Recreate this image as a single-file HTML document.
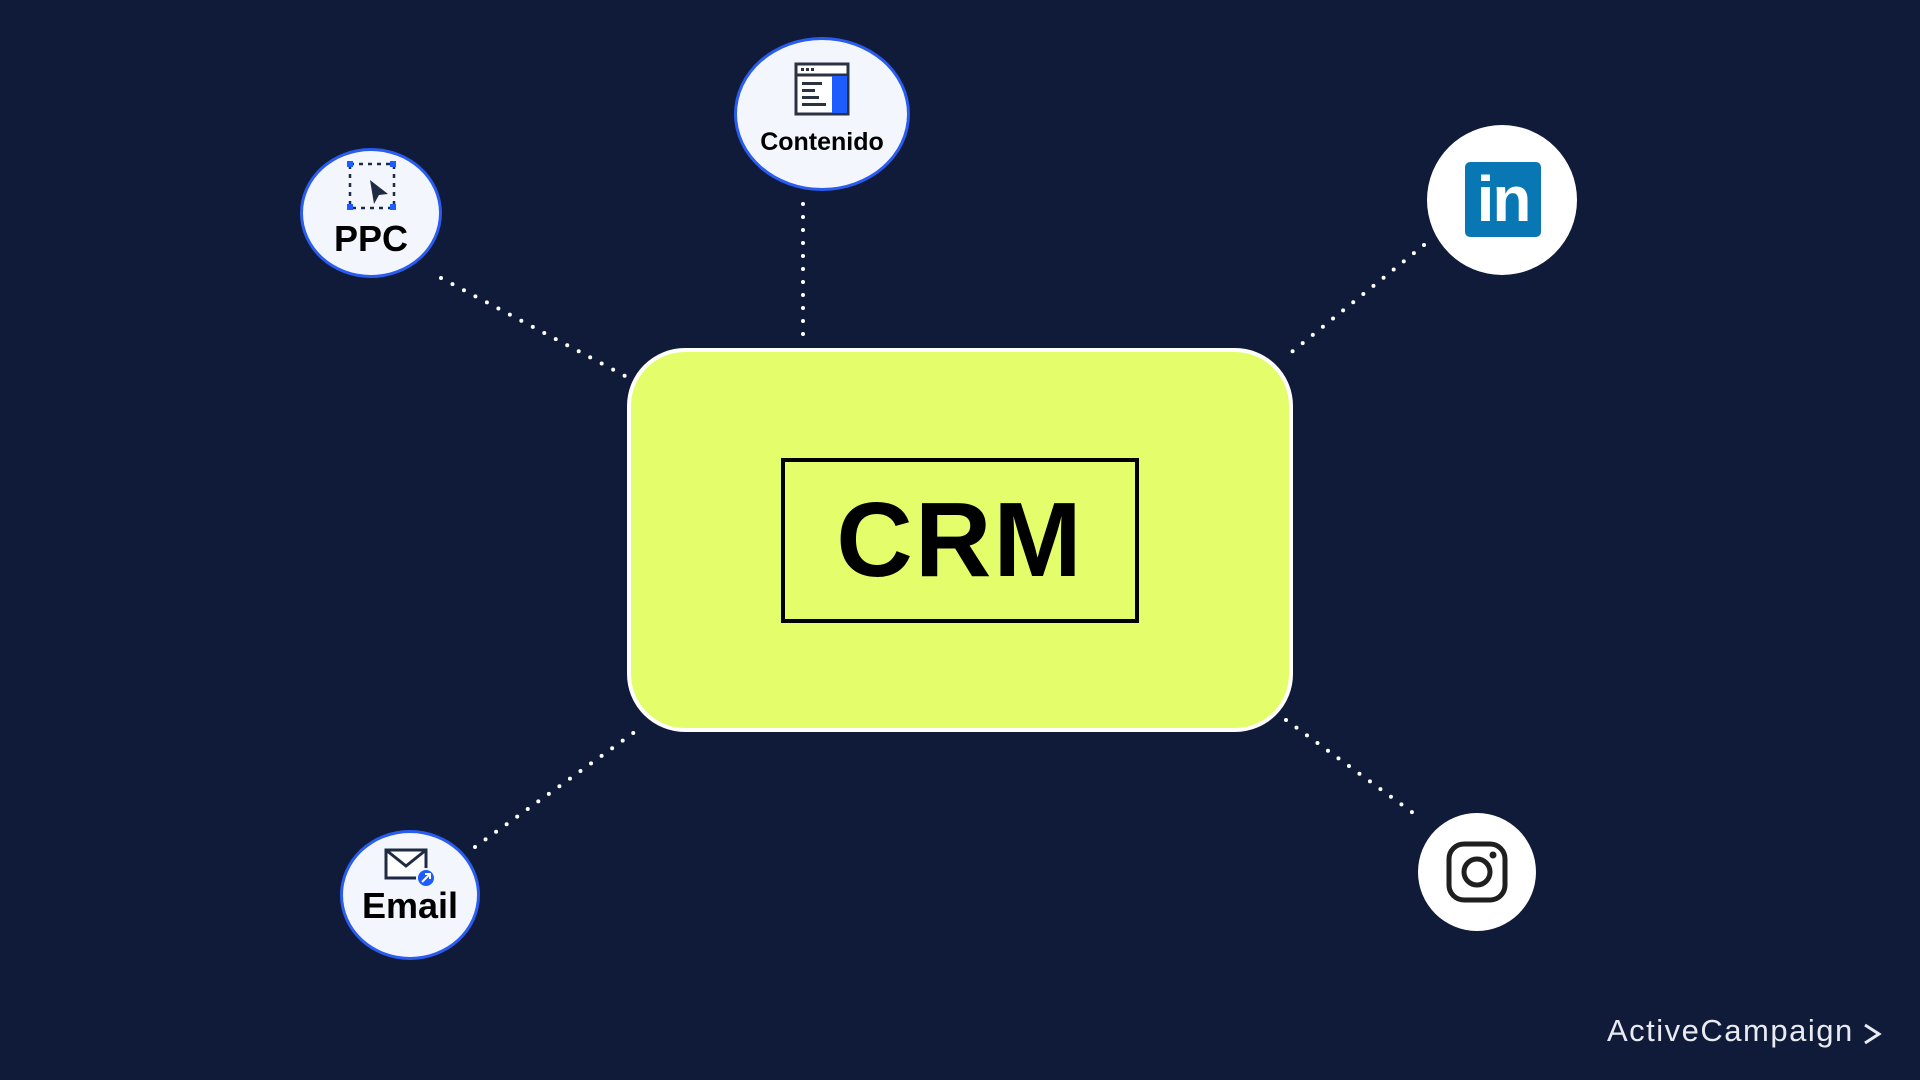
<!DOCTYPE html>
<html><head><meta charset="utf-8"><style>
html,body{margin:0;padding:0;}
body{width:1920px;height:1080px;background:#0f1b38;position:relative;overflow:hidden;font-family:"Liberation Sans",sans-serif;}
.n{position:absolute;background:#f3f7fd;border:3px solid #2a5cf0;border-radius:50%;box-sizing:border-box;}
.w{position:absolute;background:#fff;border-radius:50%;}
.crm{position:absolute;left:627px;top:348px;width:666px;height:384px;background:#e4fd6a;border:4px solid #fff;border-radius:58px;box-sizing:border-box;}
.inner{position:absolute;left:781px;top:458px;width:358px;height:165px;border:4px solid #000;box-sizing:border-box;display:flex;align-items:center;justify-content:center;font-weight:bold;font-size:106px;color:#000;letter-spacing:2px;}
.lbl{position:absolute;font-weight:bold;color:#000;text-align:center;}
</style></head><body>
<svg width="1920" height="1080" style="position:absolute;left:0;top:0">
<g stroke="#fff" stroke-width="4" stroke-linecap="round" stroke-dasharray="0 13" fill="none">
<line x1="441" y1="278" x2="627" y2="377"/>
<line x1="803" y1="204" x2="803" y2="337"/>
<line x1="1424" y1="245" x2="1283" y2="359"/>
<line x1="1286" y1="720" x2="1420" y2="818"/>
<line x1="475" y1="847" x2="643" y2="726"/>
</g>
</svg>
<div class="crm"></div>
<div class="inner">CRM</div>

<div class="n" style="left:300px;top:148px;width:142px;height:130px"></div>
<svg style="position:absolute;left:346px;top:160px" width="52" height="52">
<g fill="#1f2a44"><rect x="4" y="4" width="44" height="44" fill="none" stroke="#1f2a44" stroke-width="2.5" stroke-dasharray="4 5"/></g>
<g fill="#1d5cff"><rect x="1" y="1" width="6" height="6"/><rect x="44" y="1" width="6" height="6"/><rect x="1" y="44" width="6" height="6"/><rect x="44" y="44" width="6" height="6"/></g>
<path d="M24 20 L42 34 L33 35 L28 44 Z" fill="#1f2a44"/>
</svg>
<div class="lbl" style="left:300px;top:218px;width:142px;font-size:36px">PPC</div>

<div class="n" style="left:734px;top:37px;width:176px;height:154px"></div>
<svg style="position:absolute;left:794px;top:62px" width="56" height="54">
<rect x="2" y="2" width="52" height="50" fill="#fff" stroke="#2b3242" stroke-width="3"/>
<line x1="2" y1="13" x2="54" y2="13" stroke="#2b3242" stroke-width="3"/>
<rect x="38" y="14" width="15" height="37" fill="#1d5cff"/>
<g fill="#2b3242"><rect x="7" y="6" width="3" height="3"/><rect x="12" y="6" width="3" height="3"/><rect x="17" y="6" width="3" height="3"/>
<rect x="8" y="20" width="20" height="3"/><rect x="8" y="27" width="13" height="3"/><rect x="8" y="34" width="17" height="3"/><rect x="8" y="41" width="24" height="3"/></g>
</svg>
<div class="lbl" style="left:734px;top:128px;width:176px;font-size:25px">Contenido</div>

<div class="w" style="left:1427px;top:125px;width:150px;height:150px"></div>
<div style="position:absolute;left:1465px;top:162px;width:76px;height:75px;background:#0a77b5;border-radius:5px;color:#fff;font-weight:bold;font-size:64px;line-height:75px;text-align:center;letter-spacing:-2px">in</div>

<div class="w" style="left:1418px;top:813px;width:118px;height:118px"></div>
<svg style="position:absolute;left:1445px;top:840px" width="64" height="64">
<rect x="4" y="4" width="56" height="56" rx="15" fill="none" stroke="#1f1f1f" stroke-width="5"/>
<circle cx="32" cy="32" r="13" fill="none" stroke="#1f1f1f" stroke-width="5"/>
<circle cx="48" cy="15" r="3.5" fill="#1f1f1f"/>
</svg>

<div class="n" style="left:340px;top:830px;width:140px;height:130px"></div>
<svg style="position:absolute;left:383px;top:846px" width="56" height="44">
<rect x="3" y="4" width="40" height="28" fill="#fff" stroke="#1f2a44" stroke-width="3"/>
<path d="M3 4 L23 20 L43 4" fill="none" stroke="#1f2a44" stroke-width="3"/>
<circle cx="43" cy="32" r="9" fill="#1d5cff" stroke="#f3f7fd" stroke-width="2"/>
<path d="M39 36 L47 28 M42 28 L47 28 L47 33" stroke="#fff" stroke-width="2" fill="none"/>
</svg>
<div class="lbl" style="left:340px;top:885px;width:140px;font-size:36px">Email</div>

<div style="position:absolute;left:1607px;top:1013px;color:#e8ebf2;font-size:31px;letter-spacing:1.5px">ActiveCampaign</div>
<svg style="position:absolute;left:1862px;top:1022px" width="20" height="24"><path d="M3 3 L17 12 L3 21" fill="none" stroke="#e8ebf2" stroke-width="3"/></svg>
</body></html>
